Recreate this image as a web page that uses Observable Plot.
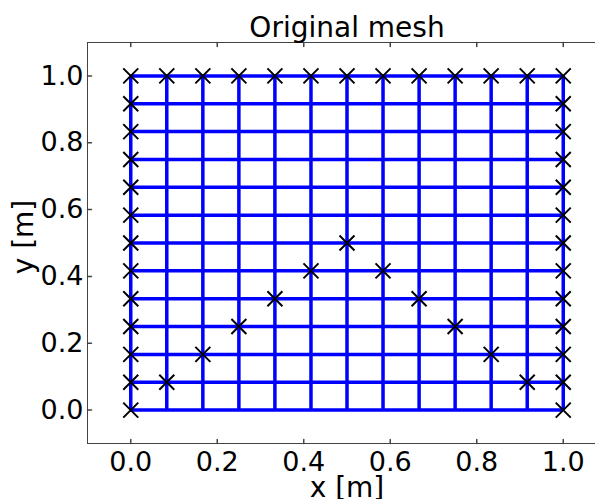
<!DOCTYPE html>
<html>
<head>
<meta charset="utf-8">
<script src="https://cdn.jsdelivr.net/npm/d3@7"></script>
<script src="https://cdn.jsdelivr.net/npm/@observablehq/plot@0.6"></script>
<style>
  html, body { margin: 0; padding: 0; background: #fff; overflow: hidden; }
  #chart svg { display: block; max-width: none !important; }
</style>
</head>
<body>
<div id="chart"></div>
<script>
// Structured mesh node coordinates (same along x and y), 12 x 12 cells
const meshCoords = [0, 0.0833, 0.1667, 0.25, 0.3333, 0.4167, 0.5, 0.5833, 0.6667, 0.75, 0.8333, 0.9167, 1];

// Marked nodes (x, y)
const markerX = [
  0, 0, 0, 0, 0, 0, 0, 0, 0, 0, 0, 0, 0,
  0.0833, 0.1667, 0.25, 0.3333, 0.4167, 0.5, 0.5833, 0.6667, 0.75, 0.8333, 0.9167, 1,
  1, 1, 1, 1, 1, 1, 1, 1, 1, 1, 1, 1,
  0.0833, 0.1667, 0.25, 0.3333, 0.4167, 0.5,
  0.5833, 0.6667, 0.75, 0.8333, 0.9167
];
const markerY = [
  0, 0.0833, 0.1667, 0.25, 0.3333, 0.4167, 0.5, 0.5833, 0.6667, 0.75, 0.8333, 0.9167, 1,
  1, 1, 1, 1, 1, 1, 1, 1, 1, 1, 1, 1,
  0, 0.0833, 0.1667, 0.25, 0.3333, 0.4167, 0.5, 0.5833, 0.6667, 0.75, 0.8333, 0.9167,
  0.0833, 0.1667, 0.25, 0.3333, 0.4167, 0.5,
  0.4167, 0.3333, 0.25, 0.1667, 0.0833
];

// Axis settings
const xDomain = [-0.1, 1.1];
const yDomain = [-0.1, 1.1];
const xTicks = [0, 0.2, 0.4, 0.6, 0.8, 1.0];
const yTicks = [0, 0.2, 0.4, 0.6, 0.8, 1.0];
const titleText = "Original mesh";
const xLabel = "x [m]";
const yLabel = "y [m]";

const markers = markerX.map((x, i) => ({x, y: markerY[i]}));
const lo = meshCoords[0], hi = meshCoords[meshCoords.length - 1];

// "x" marker symbol
const crossSymbol = {
  draw(context, size) {
    const r = Math.sqrt(size / Math.PI);
    context.moveTo(-r, -r); context.lineTo(r, r);
    context.moveTo(r, -r); context.lineTo(-r, r);
  }
};
// plain tick line for inward ticks
const tickShape = {
  draw(context, l) { context.moveTo(0, 0); context.lineTo(0, -l); }
};

const font = "DejaVu Sans, sans-serif";
const spine = "#444";

const chart = Plot.plot({
  width: 620,
  height: 499,
  marginLeft: 87,
  marginRight: 14,
  marginTop: 42,
  marginBottom: 56,
  style: {fontFamily: font, background: "#fff"},
  x: {domain: xDomain},
  y: {domain: yDomain},
  marks: [
    // mesh lines
    Plot.ruleY(meshCoords, {y: d => d, x1: lo, x2: hi, stroke: "#0000ff", strokeWidth: 3.5}),
    Plot.ruleX(meshCoords, {x: d => d, y1: lo, y2: hi, stroke: "#0000ff", strokeWidth: 3.5}),
    // node markers
    Plot.dot(markers, {x: "x", y: "y", symbol: crossSymbol, r: 7.5, stroke: "#000", strokeWidth: 2, fill: "none"}),
    // frame
    Plot.frame({stroke: spine, strokeWidth: 1}),
    // inward ticks on all sides
    Plot.vector(xTicks, {x: d => d, y: yDomain[0], length: 4, rotate: 0, anchor: "start", shape: tickShape, stroke: spine}),
    Plot.vector(xTicks, {x: d => d, y: yDomain[1], length: 4, rotate: 180, anchor: "start", shape: tickShape, stroke: spine}),
    Plot.vector(yTicks, {y: d => d, x: xDomain[0], length: 4, rotate: 90, anchor: "start", shape: tickShape, stroke: spine}),
    Plot.vector(yTicks, {y: d => d, x: xDomain[1], length: 4, rotate: 270, anchor: "start", shape: tickShape, stroke: spine}),
    // tick labels
    Plot.axisX(xTicks, {anchor: "bottom", tickSize: 0, tickPadding: 8, fontSize: 27, tickFormat: d => d.toFixed(1), fill: "#000", label: null}),
    Plot.axisY(yTicks, {anchor: "left", tickSize: 0, tickPadding: 4, fontSize: 27, tickFormat: d => d.toFixed(1), fill: "#000", label: null}),
    // axis labels and title
    Plot.text([xLabel], {text: d => d, frameAnchor: "bottom", lineAnchor: "bottom", dy: 53, fontSize: 28, fill: "#000"}),
    Plot.text([yLabel], {text: d => d, frameAnchor: "left", textAnchor: "middle", lineAnchor: "bottom", rotate: -90, dx: -55, dy: -6, fontSize: 28, fill: "#000"}),
    Plot.text([titleText], {text: d => d, frameAnchor: "top", lineAnchor: "bottom", dy: -6, fontSize: 28, fill: "#000"})
  ]
});

document.getElementById("chart").appendChild(chart);
</script>
</body>
</html>
